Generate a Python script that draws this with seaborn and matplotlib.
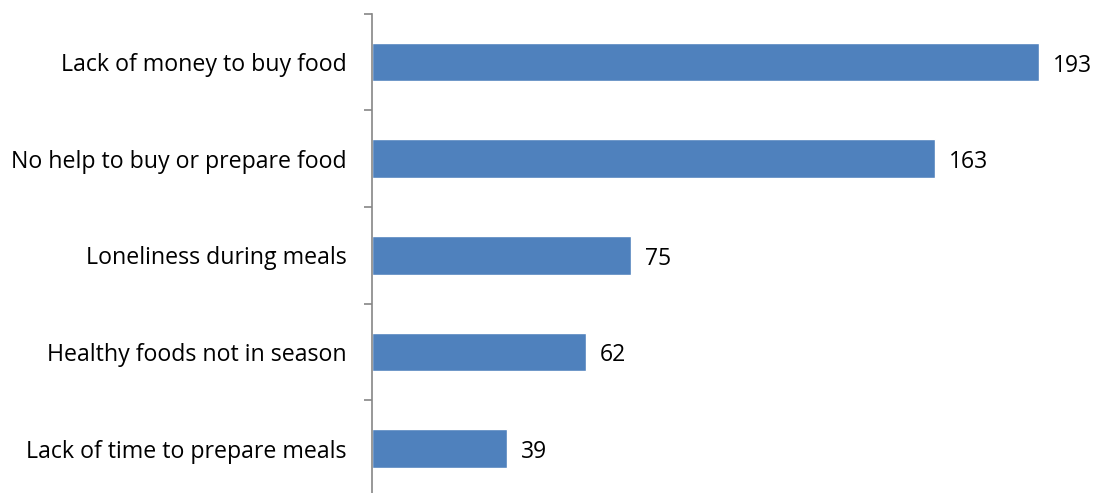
import numpy as np
import pandas as pd
import matplotlib
matplotlib.use('Agg')
import matplotlib.pyplot as plt
import seaborn as sns

# Data
categories = ['Lack of money to buy food', 'No help to buy or prepare food',
              'Loneliness during meals', 'Healthy foods not in season',
              'Lack of time to prepare meals']
counts = [193, 163, 75, 62, 39]

df = pd.DataFrame({'reason': categories, 'count': counts})

sns.set_theme(style='white')
plt.rcParams['font.family'] = ['Open Sans', 'DejaVu Sans']

fig = plt.figure(figsize=(10.96, 4.93), dpi=100)
ax = fig.add_axes([0.3394, -0.008, 0.6306, 0.98])

sns.barplot(data=df, x='count', y='reason', color='#4F81BD', saturation=1,
            width=0.4, ax=ax)

ax.set_xlim(0, 200)
ax.set_ylim(len(categories) - 0.5, -0.5)
ax.set_xlabel('')
ax.set_ylabel('')
ax.set_xticks([])

# category labels at centers, tick marks at the boundaries
ax.set_yticks(np.arange(len(categories)))
ax.set_yticklabels(categories, fontsize=16.7, color='black')
ax.tick_params(axis='y', which='major', length=0, pad=18)
ax.set_yticks(np.arange(len(categories) + 1) - 0.5, minor=True)
ax.tick_params(axis='y', which='minor', length=6, width=1.2, color='#868686',
               direction='out', left=True)

for s in ['top', 'right', 'bottom']:
    ax.spines[s].set_visible(False)
ax.spines['left'].set_color('#868686')
ax.spines['left'].set_linewidth(1.2)

labels = ax.bar_label(ax.containers[0], padding=10, fontsize=16.5, color='black')
for t in labels:
    t.xyann = (10, -2.5)  # values sit a touch below bar centre in the original

fig.savefig('out.png', dpi=100)
